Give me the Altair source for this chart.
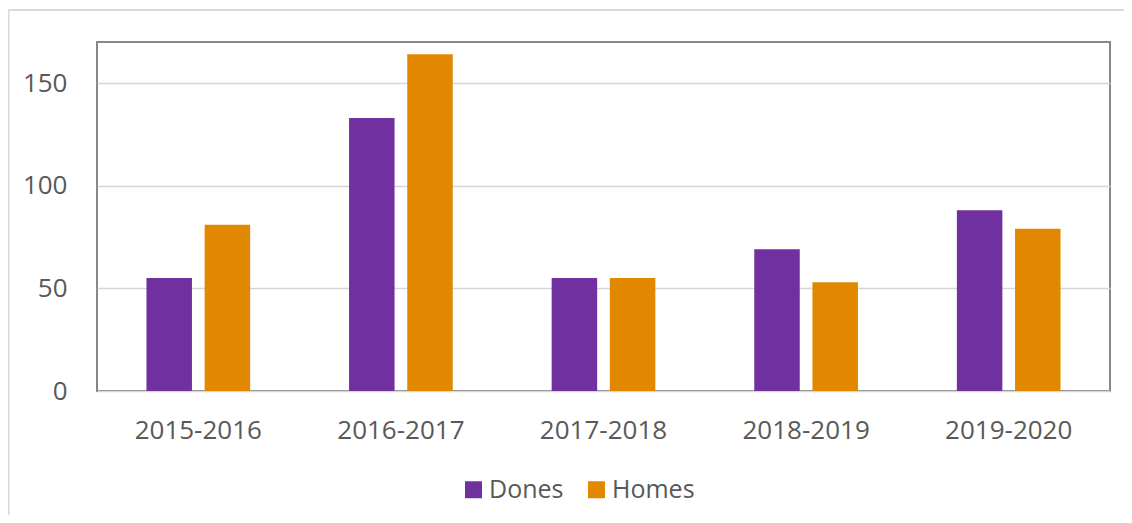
import altair as alt
import pandas as pd

seasons = ["2015-2016", "2016-2017", "2017-2018", "2018-2019", "2019-2020"]
dones = [55, 133, 55, 69, 88]
homes = [81, 164, 55, 53, 79]
series = ["Dones", "Homes"]
colors = ["#7030A0", "#E18800"]
y_ticks = [0, 50, 100, 150]

rows = []
for s, d, h in zip(seasons, dones, homes):
    rows.append({"season": s, "group": "Dones", "value": d})
    rows.append({"season": s, "group": "Homes", "value": h})
df = pd.DataFrame(rows)

W, H = 1013, 349
FONT = "Open Sans"
TXT = "#595959"

bars = alt.Chart(df).mark_bar().encode(
    x=alt.X("season:N", sort=seasons, title=None,
            scale=alt.Scale(paddingInner=0, paddingOuter=0),
            axis=alt.Axis(labelAngle=0, domain=False, ticks=False, labelFontSize=26,
                          labelColor=TXT, labelFont=FONT, labelPadding=26, grid=False)),
    xOffset=alt.XOffset("group:N", sort=series,
                        scale=alt.Scale(paddingInner=0.218, paddingOuter=0.85)),
    y=alt.Y("value:Q", title=None,
            scale=alt.Scale(domain=[0, 170], nice=False),
            axis=alt.Axis(values=y_ticks, domain=False, ticks=False, labelFontSize=26,
                          labelColor=TXT, labelFont=FONT, labelPadding=30,
                          gridColor="#d6d6d6", gridWidth=1.5)),
    color=alt.Color("group:N", sort=series,
                    scale=alt.Scale(domain=series, range=colors),
                    legend=alt.Legend(title=None, orient="none", direction="horizontal",
                                      legendX=364, legendY=435, padding=0,
                                      symbolType="square", symbolSize=289,
                                      symbolStrokeWidth=0, labelFontSize=25,
                                      labelColor=TXT, labelFont=FONT, labelOffset=3,
                                      columnPadding=20)),
)

one = alt.Data(values=[{"a": 1}])
left_border = alt.Chart(one).mark_rule(color="#d9d9d9", strokeWidth=2, clip=False).encode(
    x=alt.value(-88.5), y=alt.value(-32), y2=alt.value(490))
top_border = alt.Chart(one).mark_rule(color="#d9d9d9", strokeWidth=2, clip=False).encode(
    x=alt.value(-88.5), x2=alt.value(1040), y=alt.value(-32))

chart = alt.layer(bars, left_border, top_border).properties(
    width=W, height=H,
    background="white",
    autosize=alt.AutoSizeParams(type="none"),
    padding={"left": 89, "top": 34, "right": 14, "bottom": 124},
).configure_view(stroke="#878787", strokeWidth=2)

chart.save("out.html", embed_options={"renderer": "svg", "actions": False})
